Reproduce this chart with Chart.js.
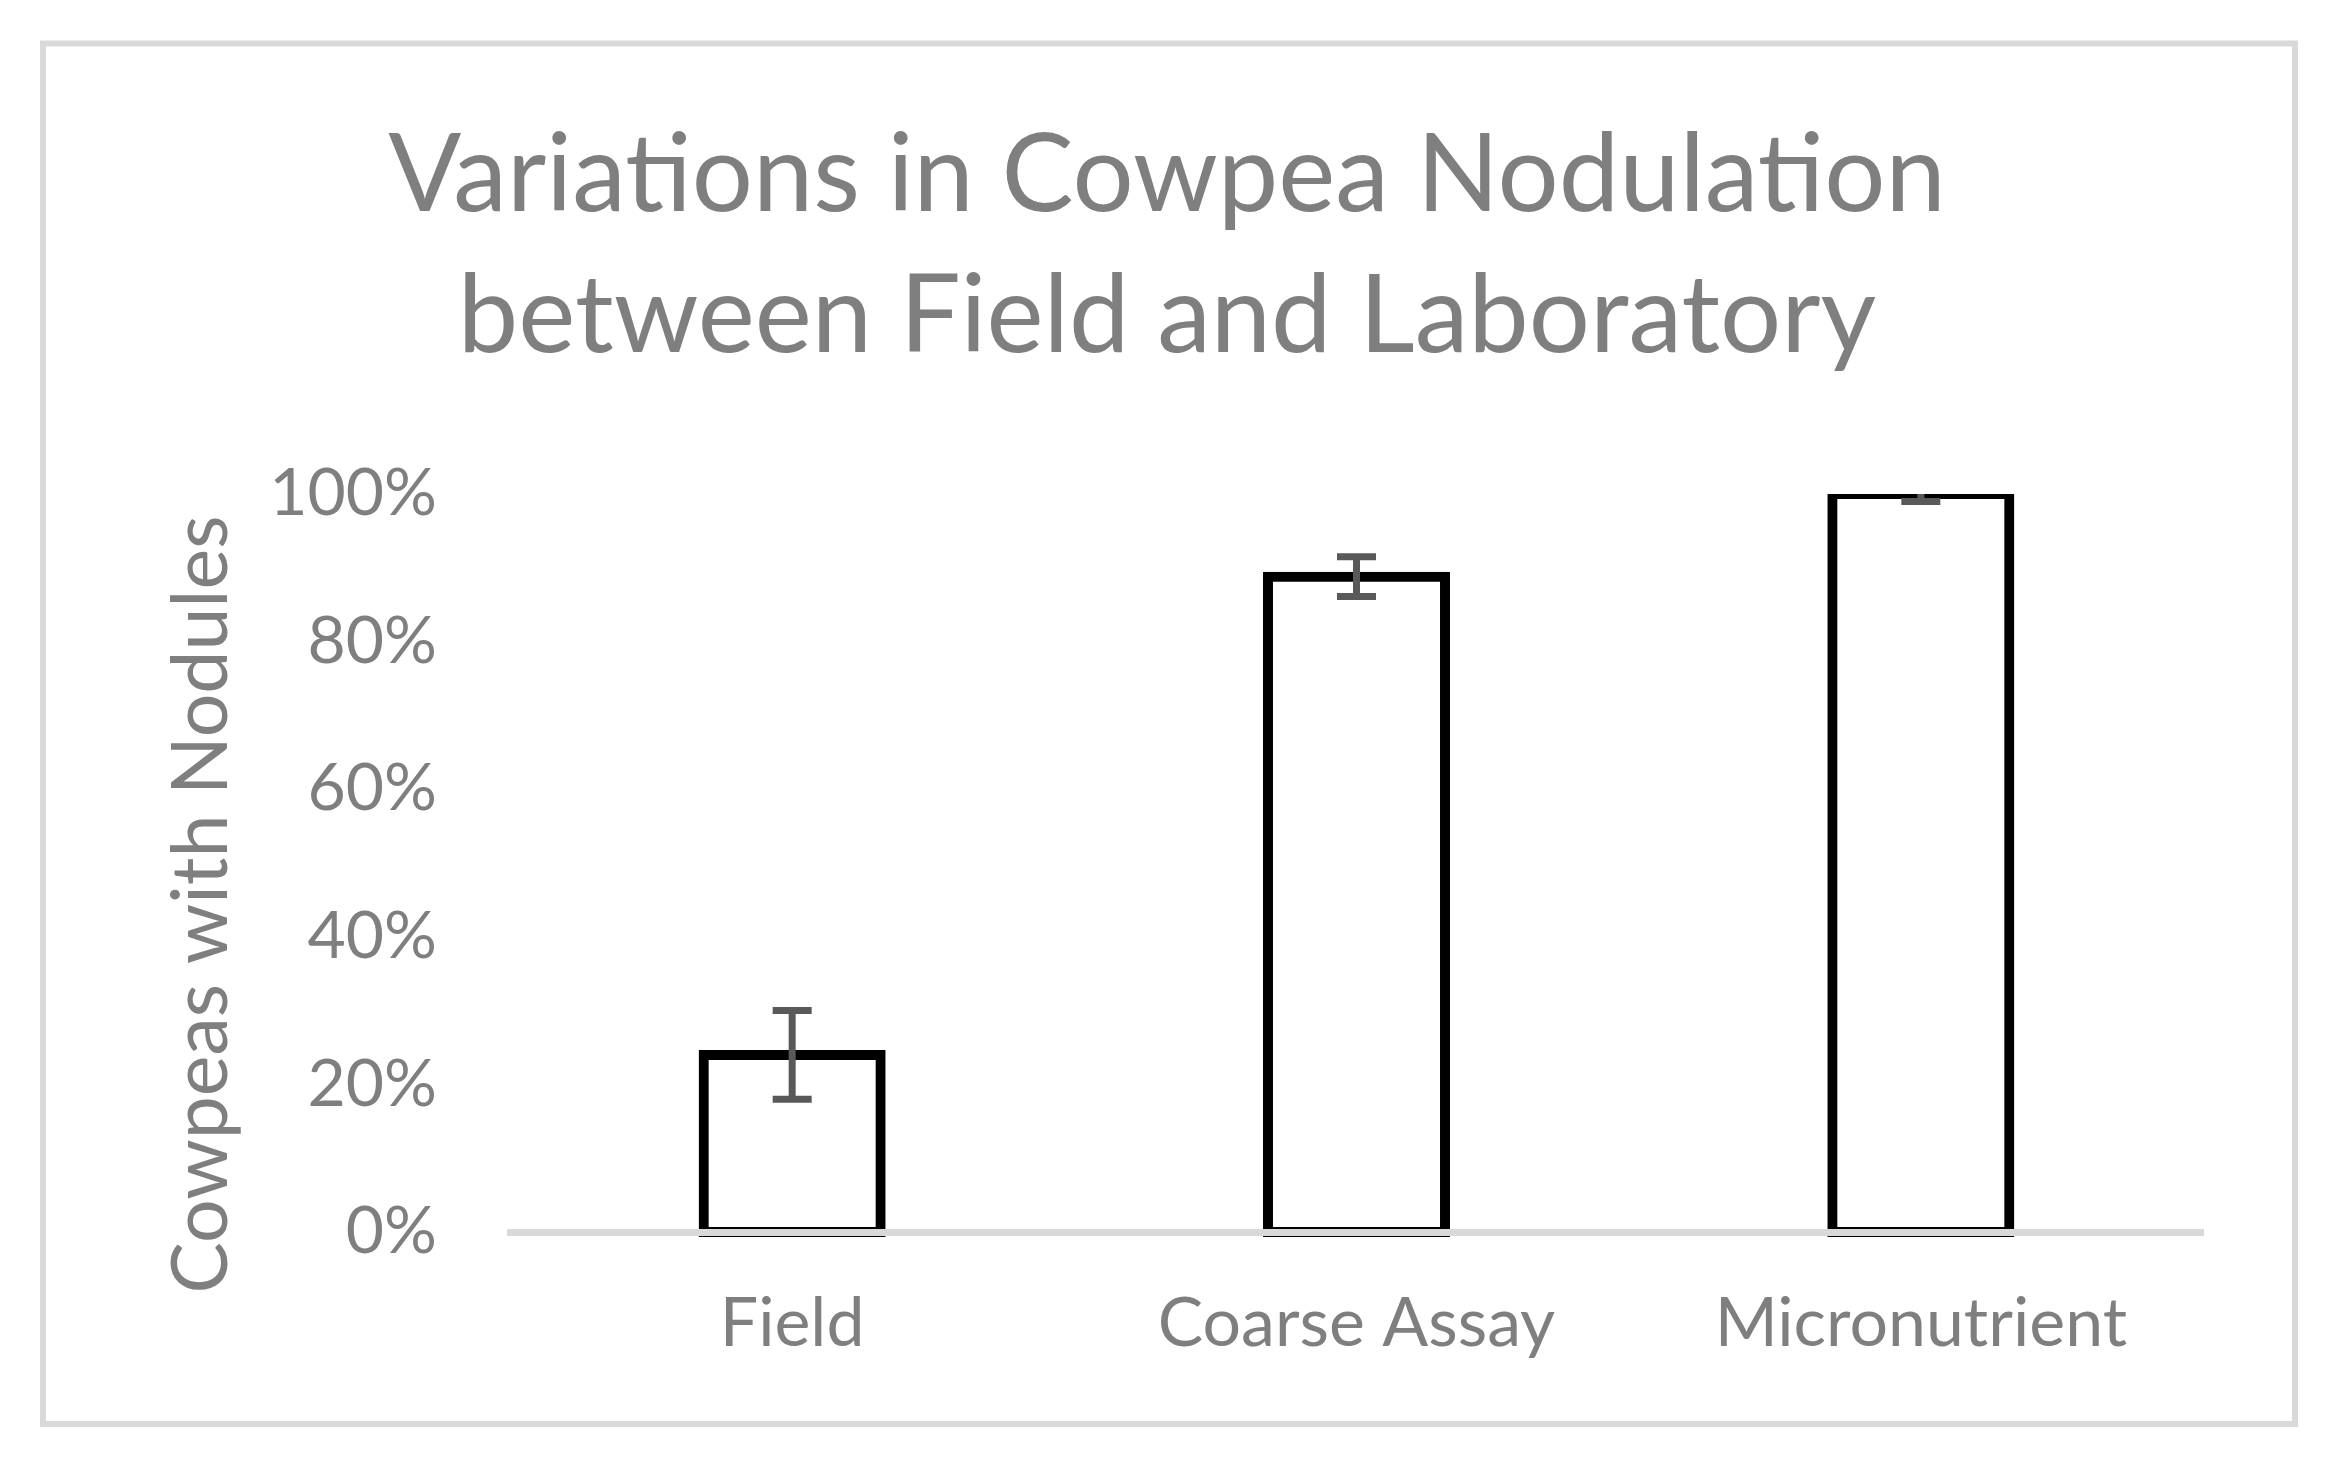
<!DOCTYPE html>
<html>
<head>
<meta charset="utf-8">
<script src="https://cdn.jsdelivr.net/npm/chart.js@4.4.1/dist/chart.umd.min.js"></script>
<style>
  html, body { margin: 0; padding: 0; background: #ffffff; overflow: hidden; }
  #wrap { position: absolute; left: 0; top: 0; width: 2334px; height: 1466px; }
</style>
</head>
<body>
<div id="wrap"><canvas id="c"></canvas></div>
<script>
// ---- data ----
const categories = ['Field', 'Coarse Assay', 'Micronutrient'];
const nodulatedPct = [24.0, 88.8, 100];
const errorPct = [6.0, 2.7, 1.0];
const yTickValues = [0, 20, 40, 60, 80, 100];
const titleLines = ['Variations in Cowpea Nodulation', 'between Field and Laboratory'];
const yAxisTitle = 'Cowpeas with Nodules';

const FONT = 'Lato';
const TEXT = '#7f7f7f';

const frame = {
  id: 'frame',
  beforeDraw(chart) {
    const ctx = chart.ctx;
    ctx.save();
    ctx.fillStyle = '#ffffff';
    ctx.fillRect(0, 0, chart.width, chart.height);
    ctx.strokeStyle = '#d9d9d9';
    ctx.lineWidth = 6;
    ctx.strokeRect(43, 43.5, 2252, 1380.5);
    ctx.restore();
  }
};

const errorBars = {
  id: 'errorBars',
  afterDatasetsDraw(chart) {
    const ctx = chart.ctx;
    const ys = chart.scales.y;
    const meta = chart.getDatasetMeta(0);
    const a = chart.chartArea;
    ctx.save();
    ctx.beginPath();
    ctx.rect(a.left, a.top, a.right - a.left, a.bottom - a.top);
    ctx.clip();
    ctx.strokeStyle = '#595959';
    ctx.lineWidth = 7;
    ctx.lineCap = 'butt';
    meta.data.forEach((bar, i) => {
      const x = bar.x;
      const hi = ys.getPixelForValue(nodulatedPct[i] + errorPct[i]);
      const lo = ys.getPixelForValue(nodulatedPct[i] - errorPct[i]);
      const cw = 19.5;
      ctx.beginPath();
      ctx.moveTo(x, hi); ctx.lineTo(x, lo);
      ctx.moveTo(x - cw, hi); ctx.lineTo(x + cw, hi);
      ctx.moveTo(x - cw, lo); ctx.lineTo(x + cw, lo);
      ctx.stroke();
    });
    ctx.restore();
  }
};

const yTitle = {
  id: 'yTitle',
  afterDraw(chart) {
    const ctx = chart.ctx;
    ctx.save();
    ctx.translate(227, 904.5);
    ctx.rotate(-Math.PI / 2);
    ctx.font = '77px ' + FONT;
    ctx.fillStyle = TEXT;
    ctx.textAlign = 'center';
    ctx.textBaseline = 'alphabetic';
    ctx.fillText(yAxisTitle, 0, 0);
    ctx.restore();
  }
};

new Chart(document.getElementById('c'), {
  type: 'bar',
  data: {
    labels: categories,
    datasets: [{
      data: nodulatedPct,
      backgroundColor: '#ffffff',
      borderColor: '#000000',
      borderWidth: 10,
      borderSkipped: false,
      inflateAmount: 5,
      barPercentage: 0.3137,
      categoryPercentage: 1.0,
      clip: { left: false, right: false, top: 0, bottom: false }
    }]
  },
  options: {
    responsive: true,
    maintainAspectRatio: false,
    animation: false,
    devicePixelRatio: 1,
    layout: { padding: { left: 0, right: 0, top: 0, bottom: 0 } },
    plugins: {
      legend: { display: false },
      tooltip: { enabled: false },
      title: {
        display: true,
        text: titleLines,
        color: TEXT,
        font: { family: FONT, size: 108, weight: 'normal', lineHeight: 141 / 108 },
        padding: { top: 106, bottom: 106 }
      }
    },
    scales: {
      x: {
        grid: { display: false, drawTicks: false, tickLength: 0 },
        border: { display: true, color: '#d9d9d9', width: 7, z: 1 },
        ticks: { color: TEXT, font: { family: FONT, size: 68 }, padding: 51 },
        afterFit(s) { s.height = 234; }
      },
      y: {
        min: 0,
        max: 100,
        afterBuildTicks(s) { s.ticks = yTickValues.map(v => ({ value: v })); },
        grid: { display: false, drawTicks: false, tickLength: 0 },
        border: { display: false },
        ticks: {
          color: TEXT,
          font: { family: FONT, size: 66 },
          padding: 73,
          callback: v => v + '%'
        },
        afterFit(s) { s.width = 510; }
      },
      yRightMargin: {
        type: 'linear',
        position: 'right',
        display: true,
        grid: { display: false, drawTicks: false },
        border: { display: false },
        ticks: { display: false },
        afterFit(s) { s.width = 131; }
      }
    }
  },
  plugins: [frame, errorBars, yTitle]
});
</script>
</body>
</html>
